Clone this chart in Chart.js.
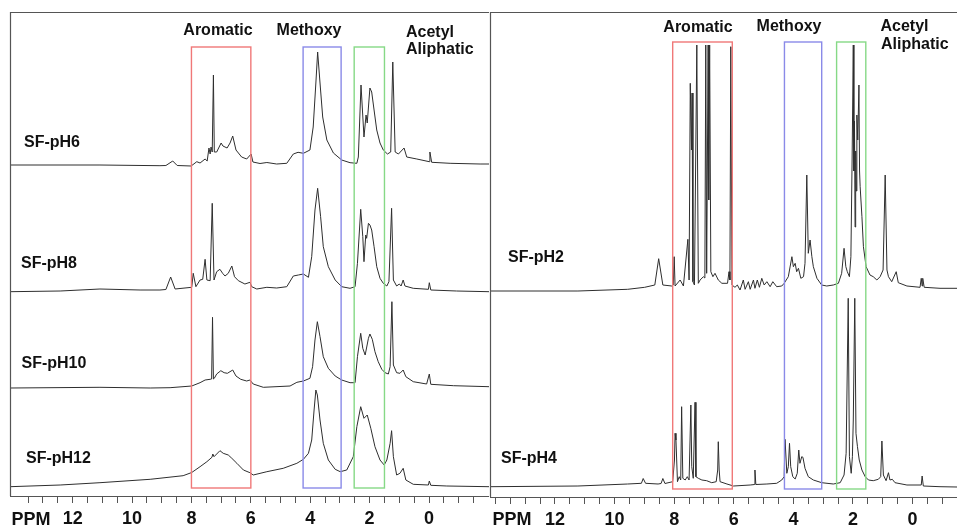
<!DOCTYPE html>
<html><head><meta charset="utf-8">
<script src="https://cdn.jsdelivr.net/npm/chart.js@4.4.1/dist/chart.umd.min.js"></script>
<style>
html,body{margin:0;padding:0;background:#fff;}
#wrap{position:relative;width:957px;height:528px;overflow:hidden;background:#fff;}
#left{position:absolute;left:0;top:0;}
#right{position:absolute;left:489px;top:0;}
</style></head><body>
<div id="wrap"><canvas id="left" width="489" height="528"></canvas><canvas id="right" width="468" height="528"></canvas></div>
<script>
// ---- data: [ppm, intensity above own baseline] ----
const sfPH6 = [[14.11,0],[11.08,0],[9.06,-0.7],[8.86,-0.5],[8.63,4],[8.48,-0.5],[8.01,-1],[7.82,3.3],[7.71,2],[7.54,6],[7.47,4],[7.41,17],[7.37,11],[7.34,18],[7.30,13],[7.26,90],[7.23,13],[7.15,13],[7.00,22],[6.94,19],[6.80,17],[6.70,22],[6.61,29],[6.50,15],[6.31,8],[6.14,6],[5.99,11],[5.93,3],[5.69,1.5],[5.46,2.5],[5.13,1],[4.79,1.7],[4.57,11],[4.41,12.7],[4.23,11.7],[4.01,15],[3.90,38],[3.81,82],[3.75,113],[3.67,82],[3.58,48],[3.44,25],[3.22,12],[2.94,5],[2.66,2.3],[2.43,1.7],[2.38,8],[2.29,80],[2.19,28],[2.12,50],[2.08,42],[1.99,77],[1.93,73],[1.85,55],[1.76,35],[1.65,22],[1.54,15],[1.40,11],[1.29,13],[1.22,103],[1.14,13],[1.03,11],[0.84,17],[0.75,8],[0.41,6],[-0.01,3.3],[-0.03,13],[-0.09,2.7],[-0.71,1.7],[-1.72,1],[-2.02,1]];
const sfPH8 = [[14.11,-1.7],[12.42,-1],[11.08,1],[9.73,0],[9.06,0],[8.86,0.5],[8.70,13],[8.55,1],[7.99,2.7],[7.94,16.7],[7.85,3.3],[7.71,10],[7.62,10.7],[7.54,30.7],[7.48,10],[7.37,9.3],[7.30,86.7],[7.24,10],[7.15,18.3],[7.04,20.7],[6.95,16.7],[6.87,14],[6.76,16.7],[6.64,24],[6.55,13.3],[6.42,9.3],[6.20,6],[6.03,7.7],[5.97,3.3],[5.80,1],[5.46,2.7],[5.13,2],[4.79,3.3],[4.57,14],[4.40,15],[4.23,16],[4.06,12.7],[3.95,33.3],[3.84,80],[3.75,101.7],[3.65,73.3],[3.56,43.3],[3.39,23.3],[3.16,10],[2.94,3.3],[2.66,1.7],[2.49,3.3],[2.41,26.7],[2.30,80.7],[2.23,53.3],[2.19,28.3],[2.13,55],[2.10,51.7],[2.04,66.7],[1.99,65],[1.93,60],[1.85,43.3],[1.76,23.3],[1.65,11.7],[1.54,6.7],[1.42,4],[1.35,8.3],[1.26,81.7],[1.20,10],[1.09,4],[1.00,6],[0.94,4],[0.87,10],[0.81,4],[0.53,1.7],[0.02,0.7],[-0.01,7.3],[-0.06,0],[-0.93,-1],[-2.02,-1.7]];
const sfPH10 = [[14.11,0],[11.08,0.7],[9.39,0],[8.72,0.3],[7.99,2],[7.71,5.3],[7.54,8],[7.37,8.7],[7.32,9],[7.29,70.7],[7.26,9],[7.23,9.7],[7.15,14],[7.01,17.3],[6.90,15.3],[6.79,14.7],[6.61,18],[6.50,12],[6.34,8.7],[6.14,7],[6.03,8],[5.92,4],[5.58,0.7],[4.68,2],[4.45,5.7],[4.23,7],[4.01,9.7],[3.92,21.3],[3.84,48],[3.76,66.3],[3.67,51.3],[3.56,31.3],[3.39,19.7],[3.16,12],[2.94,8],[2.66,5.3],[2.49,5.3],[2.41,31.3],[2.30,54.7],[2.23,39.7],[2.15,33],[2.04,49.7],[1.99,54],[1.91,48.7],[1.82,36.3],[1.71,26.3],[1.59,18.7],[1.48,15.3],[1.37,14],[1.31,21.3],[1.25,86.3],[1.20,23],[1.09,15.3],[0.98,14.7],[0.87,18],[0.78,11.3],[0.53,6.3],[0.08,4],[-0.01,14],[-0.06,3.7],[-0.82,2.3],[-2.02,1.3]];
const sfPH12 = [[14.11,0.3],[12.42,2],[11.08,4.3],[9.39,7.7],[8.28,11.3],[7.99,14.5],[7.71,20.3],[7.48,25.3],[7.31,29.7],[7.28,33],[7.24,30.3],[7.15,33],[7.04,36.3],[6.93,33.7],[6.76,32],[6.64,28.7],[6.47,23.7],[6.25,17],[6.03,14.3],[5.92,12],[5.46,15.3],[4.91,18.7],[4.45,23.7],[4.23,27.7],[4.06,33.7],[3.95,47],[3.87,77],[3.81,97],[3.76,92],[3.67,67],[3.56,43.7],[3.39,27],[3.16,17.7],[2.99,15.3],[2.77,17],[2.55,30.3],[2.43,60.3],[2.30,80.3],[2.19,68.7],[2.08,72],[1.96,58.7],[1.82,40.3],[1.65,27],[1.51,22],[1.42,27],[1.31,43.7],[1.26,56.3],[1.20,30.3],[1.09,12],[0.98,13.7],[0.87,18.7],[0.78,7],[0.53,2.7],[0.02,2],[-0.01,6],[-0.06,1.7],[-0.60,1],[-2.02,0.3]];
const sfPH2 = [[14.18,0],[11.23,0],[9.56,1.7],[8.99,3.7],[8.65,6],[8.52,32.3],[8.38,6],[8.08,5],[8.03,6],[8.00,34.3],[7.97,5],[7.80,11],[7.69,5],[7.54,51.7],[7.50,11],[7.46,207.7],[7.42,141],[7.40,198],[7.37,9.3],[7.32,6],[7.24,246],[7.19,7.7],[7.13,11],[7.02,14.3],[6.97,13],[6.94,246],[6.91,17.7],[6.86,246],[6.84,91],[6.81,246],[6.77,19.3],[6.70,14.3],[6.63,17.7],[6.52,11],[6.40,7.7],[6.21,7.7],[6.16,19.3],[6.13,11],[6.10,244.3],[6.06,6],[5.96,3.7],[5.88,6],[5.79,1],[5.68,11],[5.62,1.7],[5.51,9.3],[5.45,1.7],[5.34,11],[5.29,2.7],[5.21,11],[5.14,3.7],[5.06,12.7],[4.98,6],[4.89,9.3],[4.78,4.3],[4.69,9.3],[4.56,4.3],[4.39,5],[4.31,7.7],[4.17,14.3],[4.05,34.3],[4.00,24.3],[3.94,27.7],[3.89,19.3],[3.83,22.7],[3.75,12.7],[3.66,14.3],[3.61,27.7],[3.55,116],[3.50,37.7],[3.44,51],[3.38,34.3],[3.33,24.3],[3.21,12.7],[3.05,6],[2.88,5],[2.66,6],[2.49,7.7],[2.38,17.7],[2.30,42.7],[2.24,24.3],[2.19,19.3],[2.12,14.3],[2.07,34.3],[2.03,131],[1.99,246],[1.97,120],[1.95,170],[1.93,64],[1.91,140],[1.89,100],[1.87,176],[1.84,151],[1.80,206],[1.78,120],[1.76,104.3],[1.70,74.3],[1.65,44.3],[1.56,24.3],[1.43,16],[1.32,14.3],[1.20,11],[1.09,14.3],[0.99,21],[0.92,116],[0.86,21],[0.81,14.3],[0.70,9.3],[0.55,19.3],[0.48,8.3],[0.19,5],[-0.25,3.7],[-0.29,12.7],[-0.32,5],[-0.34,12.7],[-0.39,3.7],[-0.92,2.7],[-1.49,2.7]];
const sfPH4 = [[14.18,0.3],[11.23,1],[9.56,3],[9.10,3.7],[9.04,8.5],[8.96,3.7],[8.54,3],[8.44,3.5],[8.38,8.5],[8.31,3.5],[8.05,5.3],[7.99,27],[7.97,53.7],[7.94,47],[7.89,5.3],[7.83,10.3],[7.78,7],[7.75,80.3],[7.71,8.7],[7.63,7],[7.56,10.3],[7.50,7],[7.44,82],[7.41,20.3],[7.36,8.7],[7.30,84.7],[7.27,10.3],[7.19,8.7],[7.07,7],[6.91,6.3],[6.74,4.3],[6.59,5.3],[6.54,17],[6.52,45.3],[6.49,17],[6.46,5.3],[6.23,3],[6.01,1],[5.45,2],[5.30,2.5],[5.29,17],[5.26,2.5],[4.89,3],[4.56,3.7],[4.39,7],[4.31,10.3],[4.28,47.7],[4.22,13.7],[4.17,20.3],[4.13,43.7],[4.09,20.3],[4.02,10.3],[3.94,8],[3.87,13.7],[3.82,37],[3.78,23.7],[3.72,30.3],[3.68,29.7],[3.61,18.7],[3.50,10.3],[3.33,7],[3.05,4.3],[2.66,3],[2.43,4.3],[2.30,12],[2.23,33.7],[2.16,188.7],[2.12,30.3],[2.06,13.7],[2.02,30.3],[1.99,67],[1.94,188.7],[1.90,53.7],[1.85,40.3],[1.79,27],[1.70,17],[1.59,10.3],[1.48,7],[1.32,6.3],[1.15,7.7],[1.07,10.3],[1.03,46],[0.98,12],[0.89,6.3],[0.81,14.3],[0.76,7],[0.68,7.7],[0.59,4.3],[0.19,2],[-0.29,2],[-0.32,11],[-0.36,1],[-0.92,0.3],[-1.49,0]];

// ---- tick labels ----
const majorTicks = [12, 10, 8, 6, 4, 2, 0];
const leftTicks = [13.5,13,12.5,12,11.5,11,10.5,10,9.5,9,8.5,8,7.5,7,6.5,6,5.5,5,4.5,4,3.5,3,2.5,2,1.5,1,0.5,0,-0.5,-1,-1.5];
const rightTicks = [14,13.5,13,12.5,12,11.5,11,10.5,10,9.5,9,8.5,8,7.5,7,6.5,6,5.5,5,4.5,4,3.5,3,2.5,2,1.5,1,0.5,0,-0.5,-1];
const axisTitle = 'PPM';

const FONT = '"Liberation Sans", Arial, Helvetica, sans-serif';

const decor = cfg => ({
  id: 'decor_' + cfg.id,
  afterDraw(chart) {
    const {ctx, chartArea: a, scales: {x, y}} = chart;
    ctx.save();
    ctx.strokeStyle = '#555'; ctx.lineWidth = 1.2;
    ctx.beginPath();
    ctx.moveTo(a.left + 0.5, a.bottom); ctx.lineTo(a.left + 0.5, a.top + 0.5); ctx.lineTo(a.right, a.top + 0.5);
    ctx.stroke();
    cfg.boxes.forEach(b => {
      const x1 = x.getPixelForValue(b.from), x2 = x.getPixelForValue(b.to);
      const y1 = y.getPixelForValue(b.top), y2 = y.getPixelForValue(b.bottom);
      ctx.strokeStyle = b.color; ctx.lineWidth = 1.4;
      ctx.strokeRect(x1, y1, x2 - x1, y2 - y1);
    });
    ctx.fillStyle = '#111'; ctx.textBaseline = 'alphabetic';
    cfg.texts.forEach(t => {
      ctx.font = 'bold ' + (t.size || 16) + 'px ' + FONT;
      ctx.textAlign = t.align || 'left';
      ctx.fillText(t.text, t.x, t.y);
    });
    ctx.restore();
  }
});

function makeChart(cfg) {
  return new Chart(document.getElementById(cfg.id), {
    type: 'line',
    data: { datasets: cfg.series.map(s => ({
      data: s.data.map(([p, h]) => ({x: p, y: s.base + h})),
      borderColor: '#2e2e2e', borderWidth: 1, pointRadius: 0, tension: 0, fill: false
    })) },
    options: {
      responsive: false, animation: false, devicePixelRatio: 1,
      layout: { padding: { left: cfg.padLeft, right: 0, top: 12, bottom: 0 } },
      plugins: { legend: { display: false }, tooltip: { enabled: false } },
      scales: {
        x: {
          type: 'linear', reverse: true, min: cfg.xmin, max: cfg.xmax,
          afterBuildTicks: s => { s.ticks = cfg.ticks.map(v => ({value: v})); },
          afterFit: s => { s.height = cfg.axisH; s.paddingLeft = 0; s.paddingRight = 0; },
          ticks: { autoSkip: false, maxRotation: 0, minRotation: 0, padding: 5, color: '#111',
            font: { family: FONT, size: 18, weight: 'bold' },
            callback: v => majorTicks.includes(v) ? String(v) : '' },
          grid: { drawOnChartArea: false, drawTicks: true, tickLength: 7, color: '#555', lineWidth: 1 },
          border: { display: true, color: '#555', width: 1 }
        },
        y: { display: false, min: 0, max: cfg.ymax }
      }
    },
    plugins: [decor(cfg)]
  });
}

makeChart({
  id: 'left', padLeft: 10, xmin: -2.02, xmax: 14.11, ymax: 484, axisH: 32, ticks: leftTicks,
  series: [ {data: sfPH6, base: 331}, {data: sfPH8, base: 206}, {data: sfPH10, base: 108}, {data: sfPH12, base: 9} ],
  boxes: [
    {from: 8.0, to: 6.0, top: 449, bottom: 8, color: '#f07878'},
    {from: 4.24, to: 2.96, top: 449, bottom: 8, color: '#8a8ae8'},
    {from: 2.52, to: 1.5, top: 449, bottom: 8, color: '#86d986'}
  ],
  texts: [
    {text: 'Aromatic', x: 218, y: 35, align: 'center'},
    {text: 'Methoxy', x: 309, y: 35, align: 'center'},
    {text: 'Acetyl', x: 406, y: 36.5},
    {text: 'Aliphatic', x: 406, y: 53.5},
    {text: 'SF-pH6', x: 24, y: 146.5},
    {text: 'SF-pH8', x: 21, y: 268},
    {text: 'SF-pH10', x: 21.5, y: 368},
    {text: 'SF-pH12', x: 26, y: 463},
    {text: axisTitle, x: 31, y: 525, align: 'center', size: 18}
  ]
});

makeChart({
  id: 'right', padLeft: 1, xmin: -1.49, xmax: 14.18, ymax: 485, axisH: 31, ticks: rightTicks,
  series: [ {data: sfPH2, base: 206}, {data: sfPH4, base: 10} ],
  boxes: [
    {from: 8.05, to: 6.05, top: 455, bottom: 8, color: '#f07878'},
    {from: 4.3, to: 3.05, top: 455, bottom: 8, color: '#8a8ae8'},
    {from: 2.55, to: 1.57, top: 455, bottom: 8, color: '#86d986'}
  ],
  texts: [
    {text: 'Aromatic', x: 209, y: 31.5, align: 'center'},
    {text: 'Methoxy', x: 300, y: 31, align: 'center'},
    {text: 'Acetyl', x: 391.5, y: 30.5},
    {text: 'Aliphatic', x: 392, y: 49},
    {text: 'SF-pH2', x: 19, y: 262},
    {text: 'SF-pH4', x: 12, y: 463},
    {text: axisTitle, x: 23, y: 525, align: 'center', size: 18}
  ]
});
</script>
</body></html>
